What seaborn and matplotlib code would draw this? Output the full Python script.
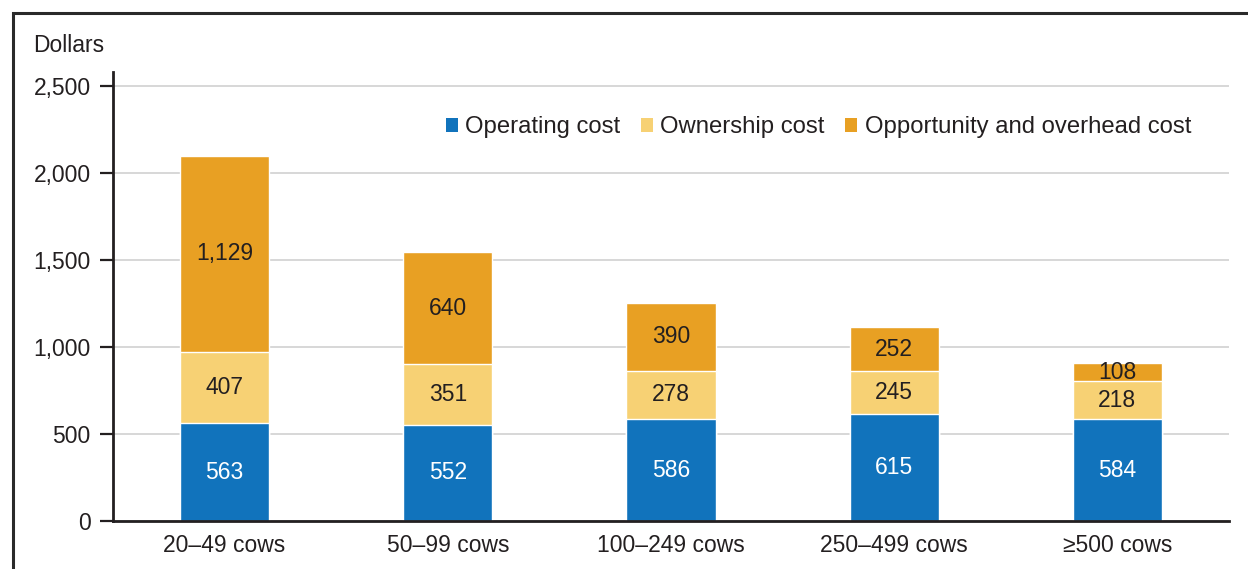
import numpy as np
import pandas as pd
import matplotlib
matplotlib.use("Agg")
import matplotlib.pyplot as plt
import matplotlib.patches as mpatches
from matplotlib.lines import Line2D
import seaborn as sns

# data
herd_sizes = ["20\u201349 cows", "50\u201399 cows", "100\u2013249 cows", "250\u2013499 cows", "\u2265500 cows"]
operating = [563, 552, 586, 615, 584]
ownership = [407, 351, 278, 245, 218]
opportunity = [1129, 640, 390, 252, 108]
series_names = ["Operating cost", "Ownership cost", "Opportunity and overhead cost"]
colors = ["#1173bc", "#f7d174", "#e8a023"]
label_colors = ["white", "#231f20", "#231f20"]
yticks = [0, 500, 1000, 1500, 2000, 2500]

sns.set_theme(style="white")
plt.rcParams["font.family"] = ["Liberation Sans", "DejaVu Sans"]
ink = "#231f20"
fs = 16.5

df = pd.DataFrame({"size": herd_sizes, "op": operating, "own": ownership, "opp": opportunity})
df["cum1"] = df["op"]
df["cum2"] = df["op"] + df["own"]
df["cum3"] = df["cum2"] + df["opp"]

fig = plt.figure(figsize=(12.48, 5.69), dpi=100)
ax = fig.add_axes([113 / 1248, 48 / 569, 1116 / 1248, 449 / 569])

# stacked bars: draw cumulative totals from the top layer down
for col, c in zip(["cum3", "cum2", "cum1"], colors[::-1]):
    sns.barplot(data=df, x="size", y=col, color=c, width=0.4, saturation=1,
                ax=ax, order=herd_sizes, zorder=2)

segments = [operating, ownership, opportunity]
for i in range(len(herd_sizes)):
    base = 0
    for seg, tc in zip(segments, label_colors):
        v = seg[i]
        ax.text(i, base + v / 2, f"{v:,}", ha="center", va="center",
                color=tc, fontsize=fs, zorder=3)
        base += v

ax.set_xlim(-0.5, len(herd_sizes) - 0.5)
ax.set_ylim(0, 2580)
ax.set_yticks(yticks)
ax.set_yticklabels([f"{t:,}" for t in yticks])
ax.set_xlabel("")
ax.set_ylabel("")
ax.yaxis.grid(True, color="#d4d4d4", lw=1.3)
ax.set_axisbelow(True)
for s in ["top", "right"]:
    ax.spines[s].set_visible(False)
for s in ["left", "bottom"]:
    ax.spines[s].set_color(ink)
    ax.spines[s].set_linewidth(2.0)
ax.tick_params(axis="y", left=True, length=9.5, width=1.6, color=ink,
               pad=6.5, labelsize=fs, labelcolor=ink)
ax.tick_params(axis="x", bottom=False, length=0, pad=9, labelsize=fs, labelcolor=ink)

handles = [mpatches.Patch(facecolor=c, edgecolor="none", label=n) for c, n in zip(colors, series_names)]
ax.legend(handles=handles, loc="center", bbox_to_anchor=(0.632, 0.877), ncol=3,
          frameon=False, fontsize=17.2, handlelength=0.52, handleheight=0.52,
          handletextpad=0.3, columnspacing=0.85, borderpad=0, labelcolor=ink)

fig.text(33 / 1248, 1 - 46 / 569, "Dollars", ha="left", va="center", fontsize=fs, color=ink)

# outer frame lines (top and left)
fx = 12.5 / 1248
fy = 1 - 13 / 569
fig.add_artist(Line2D([fx, fx, 1], [0, fy, fy], transform=fig.transFigure,
                      color="#2a2a2a", lw=2.2, solid_joinstyle="miter"))

fig.savefig("out.png", dpi=100)
